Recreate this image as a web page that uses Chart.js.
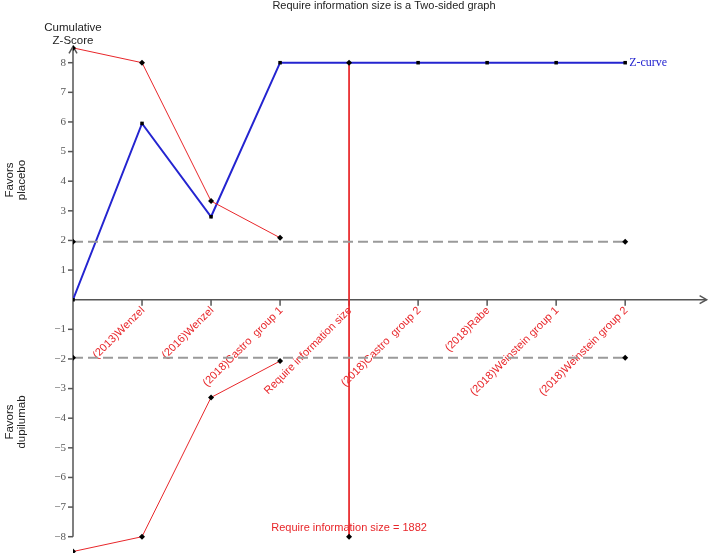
<!DOCTYPE html>
<html>
<head>
<meta charset="utf-8">
<script src="https://cdn.jsdelivr.net/npm/chart.js@4"></script>
<style>
  html, body { margin: 0; padding: 0; background: #fff; }
  #wrap { width: 709px; height: 554px; position: relative; }
</style>
</head>
<body>
<div id="wrap"><canvas id="tsa"></canvas></div>
<script>
// Datos
const studyLabels = ['(2013)Wenzel', '(2016)Wenzel', '(2018)Castro  group 1', 'Require information size',
                     '(2018)Castro  group 2', '(2018)Rabe', '(2018)Weinstein group 1', '(2018)Weinstein group 2'];
const studyPos    = [1, 2, 3, 4, 5, 6, 7, 8];
const zCurveX     = [0, 1, 2, 3, 5, 6, 7, 8];
const zCurveY     = [0, 5.95, 2.8, 8, 8, 8, 8, 8];
const boundX      = [0, 1, 2, 3];
const upperBound  = [8.5, 8.0, 3.33, 2.09];
const lowerBound  = [-8.5, -8.0, -3.3, -2.07];
const convX       = [0, 8];
const convZ       = 1.96;
const risPos      = 4;
const risLimits   = [8, -8];
const risValue    = 1882;
const yTicks      = [8, 7, 6, 5, 4, 3, 2, 1, -1, -2, -3, -4, -5, -6, -7, -8];

const RED = '#e8262a';
const BLUE = '#2424d0';

const pts = (xs, ys) => xs.map((x, i) => ({ x, y: ys[i] }));

// Ejes dibujados a mano sobre las escalas de Chart.js
const axesPlugin = {
  id: 'tsaAxes',
  beforeDatasetsDraw(chart) {
    const { ctx, scales: { x, y } } = chart;
    const x0 = x.getPixelForValue(0), y0 = y.getPixelForValue(0);
    ctx.save();
    ctx.strokeStyle = '#555';
    ctx.lineWidth = 1.5;
    // eje y
    ctx.beginPath();
    ctx.moveTo(x0, y.getPixelForValue(-8));
    ctx.lineTo(x0, y.getPixelForValue(8.55));
    ctx.stroke();
    ctx.beginPath();
    ctx.moveTo(x0 - 4, y.getPixelForValue(8.55) + 7);
    ctx.lineTo(x0, y.getPixelForValue(8.55));
    ctx.lineTo(x0 + 4, y.getPixelForValue(8.55) + 7);
    ctx.stroke();
    // eje x
    const xEnd = x.getPixelForValue(9.18);
    ctx.beginPath();
    ctx.moveTo(x0, y0);
    ctx.lineTo(xEnd, y0);
    ctx.stroke();
    ctx.beginPath();
    ctx.moveTo(xEnd - 7, y0 - 4);
    ctx.lineTo(xEnd, y0);
    ctx.lineTo(xEnd - 7, y0 + 4);
    ctx.stroke();
    // ticks y
    ctx.font = '11px "Liberation Serif", serif';
    ctx.fillStyle = '#555';
    ctx.textAlign = 'right';
    ctx.textBaseline = 'middle';
    yTicks.forEach(v => {
      const py = y.getPixelForValue(v);
      ctx.beginPath();
      ctx.moveTo(x0 - 5, py);
      ctx.lineTo(x0, py);
      ctx.stroke();
      ctx.fillText(v < 0 ? '\u2212' + Math.abs(v) : String(v), x0 - 7, py);
    });
    // ticks x y etiquetas
    ctx.font = '11px "Liberation Sans", Arial, sans-serif';
    ctx.fillStyle = RED;
    studyPos.forEach((p, i) => {
      const px = x.getPixelForValue(p);
      ctx.beginPath();
      ctx.moveTo(px, y0);
      ctx.lineTo(px, y0 + 6);
      ctx.stroke();
      ctx.save();
      ctx.translate(px + 1, y0 + 9);
      ctx.rotate(-Math.PI / 4);
      ctx.textAlign = 'right';
      ctx.textBaseline = 'middle';
      ctx.fillText(studyLabels[i], 0, 0);
      ctx.restore();
    });
    ctx.restore();
  },
  afterDraw(chart) {
    const { ctx, scales: { x, y } } = chart;
    const x0 = x.getPixelForValue(0);
    ctx.save();
    ctx.fillStyle = '#222';
    ctx.textAlign = 'center';
    ctx.textBaseline = 'middle';
    ctx.font = '11px "Liberation Sans", Arial, sans-serif';
    ctx.fillText('Require information size is a Two-sided graph', 384, 6);
    ctx.font = '11.5px "Liberation Sans", Arial, sans-serif';
    ctx.fillText('Cumulative', x0, 28);
    ctx.fillText('Z-Score', x0, 41);
    // textos laterales
    [['Favors', 'placebo', 180], ['Favors', 'dupilumab', 422]].forEach(([a, b, cy]) => {
      ctx.save();
      ctx.translate(10, cy);
      ctx.rotate(-Math.PI / 2);
      ctx.fillText(a, 0, 0);
      ctx.fillText(b, 0, 12);
      ctx.restore();
    });
    // etiqueta z-curve
    ctx.font = '12px "Liberation Serif", serif';
    ctx.fillStyle = BLUE;
    ctx.textAlign = 'left';
    ctx.fillText('Z-curve', x.getPixelForValue(8) + 4, y.getPixelForValue(8));
    // etiqueta RIS
    ctx.font = '11px "Liberation Sans", Arial, sans-serif';
    ctx.fillStyle = RED;
    ctx.textAlign = 'center';
    ctx.fillText('Require information size = ' + risValue, x.getPixelForValue(risPos), y.getPixelForValue(-7.7));
    ctx.restore();
  }
};

const marker = { pointStyle: 'rectRot', pointRadius: 3, pointBackgroundColor: '#000', pointBorderColor: '#000', pointBorderWidth: 0 };

new Chart(document.getElementById('tsa'), {
  type: 'scatter',
  data: {
    datasets: [
      { label: 'conv+', data: pts(convX, [convZ, convZ]), showLine: true, borderColor: '#9a9a9a', borderWidth: 2, borderDash: [10, 5], ...marker },
      { label: 'conv-', data: pts(convX, [-convZ, -convZ]), showLine: true, borderColor: '#9a9a9a', borderWidth: 2, borderDash: [10, 5], ...marker },
      { label: 'upper', data: pts(boundX, upperBound), showLine: true, borderColor: RED, borderWidth: 1, ...marker },
      { label: 'lower', data: pts(boundX, lowerBound), showLine: true, borderColor: RED, borderWidth: 1, ...marker },
      { label: 'RIS', data: pts([risPos, risPos], risLimits), showLine: true, borderColor: RED, borderWidth: 1, ...marker },
      { label: 'Z-curve', data: pts(zCurveX, zCurveY), showLine: true, borderColor: BLUE, borderWidth: 2,
        pointStyle: 'rect', pointRadius: 2.5, pointBackgroundColor: '#000', pointBorderColor: '#000', pointBorderWidth: 0 }
    ]
  },
  options: {
    responsive: true,
    maintainAspectRatio: false,
    animation: false,
    layout: { autoPadding: false, padding: { left: 73, right: 1, top: 39, bottom: 1 } },
    plugins: { legend: { display: false }, tooltip: { enabled: false } },
    scales: {
      x: { type: 'linear', min: 0, max: 9.2, display: false },
      y: { type: 'linear', min: -8.55, max: 8.8, display: false }
    }
  },
  plugins: [axesPlugin]
});
</script>
</body>
</html>
